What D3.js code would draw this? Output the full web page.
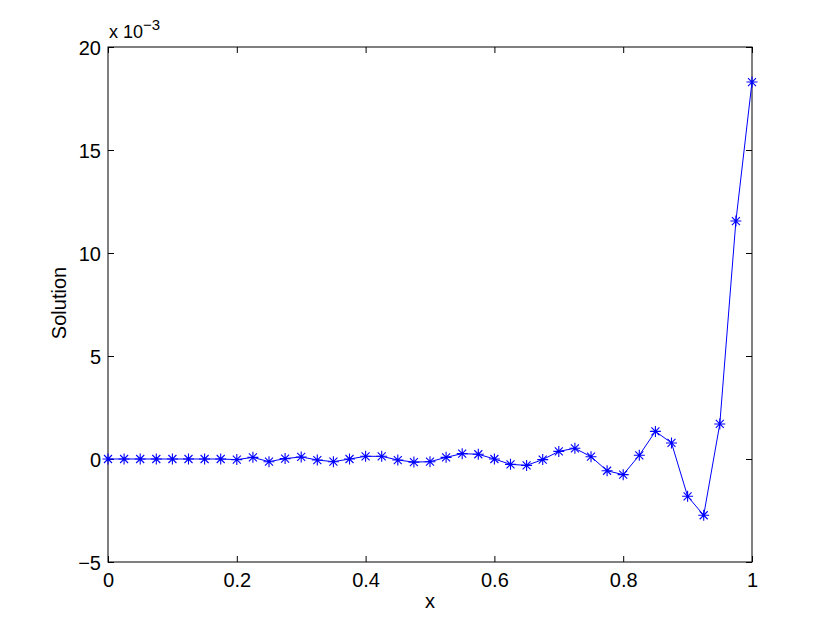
<!DOCTYPE html>
<html><head><meta charset="utf-8">
<script src="https://cdn.jsdelivr.net/npm/d3@7"></script>
<style>body{margin:0;background:#fff}svg{display:block}text{font-family:"Liberation Sans",Arial,Helvetica,sans-serif}</style>
</head><body><svg id="c" width="830" height="633"></svg>
<script>
const xValues = d3.range(41).map(i => i / 40);
const yValues = [0,0,0,0,0,0,0,0,-0.03,0.08,-0.13,0.02,0.1,-0.05,-0.13,0,0.13,0.13,-0.05,-0.15,
  -0.13,0.08,0.26,0.23,0,-0.26,-0.31,-0.03,0.37,0.52,0.11,-0.57,-0.76,0.18,1.34,0.78,-1.81,-2.73,1.7,11.55,18.3];
const xTicks = [0,0.2,0.4,0.6,0.8,1];
const yTicks = [-5,0,5,10,15,20];

const svg = d3.select("#c");
const L = 108, R = 752, T = 47, B = 562;
const x = d3.scaleLinear().domain([0,1]).range([L,R]);
const y = d3.scaleLinear().domain([-5,20]).range([B,T]);
const tl = 6;
const FS = 20;
const fmt = d => d < 0 ? "\u2212" + Math.abs(d) : String(d);

const g = svg.append("g");
g.append("rect").attr("x",L).attr("y",T).attr("width",R-L).attr("height",B-T)
  .attr("fill","none").attr("stroke","#000").attr("stroke-width",1);

const ax = g.append("g").attr("transform",`translate(0,${B})`)
  .call(d3.axisBottom(x).tickValues(xTicks).tickSizeInner(-tl).tickSizeOuter(0).tickPadding(tl+5).tickFormat(d=>String(d)));
const axT = g.append("g").attr("transform",`translate(0,${T})`)
  .call(d3.axisTop(x).tickValues(xTicks).tickSizeInner(-tl).tickSizeOuter(0).tickFormat(""));
const ay = g.append("g").attr("transform",`translate(${L},0)`)
  .call(d3.axisLeft(y).tickValues(yTicks).tickSizeInner(-tl).tickSizeOuter(0).tickPadding(tl+3).tickFormat(fmt));
const ayR = g.append("g").attr("transform",`translate(${R},0)`)
  .call(d3.axisRight(y).tickValues(yTicks).tickSizeInner(-tl).tickSizeOuter(0).tickFormat(""));
[ax,axT,ay,ayR].forEach(a=>{a.select(".domain").remove();a.selectAll("line").attr("stroke","#000");
  a.selectAll("text").attr("font-size",FS).attr("fill","#000").attr("font-family","'Liberation Sans',Arial,sans-serif");});
ax.selectAll("text").attr("y",25).attr("dy",0);
ay.selectAll("text").attr("x",-7).attr("dy","0.36em");

const line = d3.line().x((d,i)=>x(xValues[i])).y(d=>y(d));
g.append("path").datum(yValues).attr("d",line).attr("fill","none").attr("stroke","#0000ff").attr("stroke-width",1);

const r = 5.5, rd = 4;
const mk = g.append("g").selectAll("g").data(yValues).join("g")
  .attr("transform",(d,i)=>`translate(${x(xValues[i])},${y(d)})`);
mk.append("path").attr("d",`M${-r},0H${r}M0,${-r}V${r}M${-rd},${-rd}L${rd},${rd}M${-rd},${rd}L${rd},${-rd}`)
  .attr("stroke","#0000ff").attr("stroke-width",1.1).attr("fill","none");

svg.append("text").attr("x",430).attr("y",608).attr("text-anchor","middle").attr("font-size",FS).text("x");
svg.append("text").attr("transform","translate(66,303) rotate(-90)").attr("text-anchor","middle").attr("font-size",FS).text("Solution");
const ex = svg.append("text").attr("x",109).attr("y",38).attr("font-size",18);
ex.append("tspan").text("x 10");
ex.append("tspan").attr("dy",-8).attr("font-size",15).text("\u22123");
</script></body></html>
